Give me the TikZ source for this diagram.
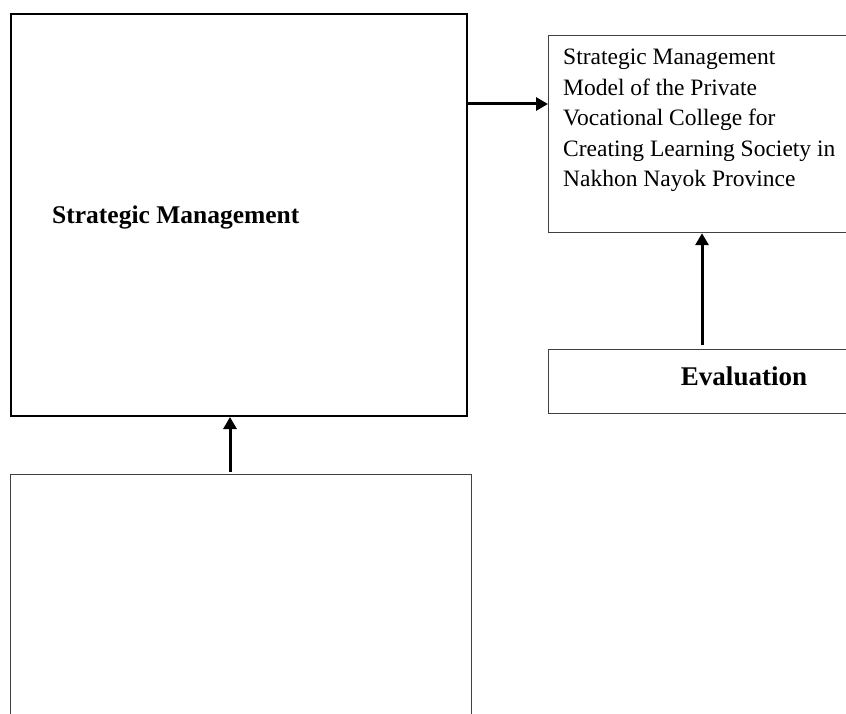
\documentclass[tikz,border=0pt]{standalone}
\usepackage{fontspec}
\setmainfont{Liberation Serif}
\usetikzlibrary{arrows.meta,positioning}

\begin{document}
\begin{tikzpicture}[x=1pt, y=-1pt,
    thickbox/.style={draw, line width=2pt, anchor=north west, inner sep=0pt},
    thinbox/.style={draw=black!75, line width=1.2pt, anchor=north west, inner sep=0pt},
    flow/.style={line width=3pt, arrows = {-Triangle[width=13pt, length=12pt]}}]
    \useasboundingbox (0,0) rectangle (846,714);

    \node[thickbox, minimum width=456, minimum height=402] (mgmt) at (10,13) {};
    \node[anchor=west, inner sep=0pt, font=\bfseries\fontsize{25.5}{30}\selectfont] (mgmtlbl) at (52,217) {Strategic Management};

    \node[thinbox, minimum width=320, minimum height=197] (model) at (548,35) {};
    \node[anchor=north west, align=left, inner sep=0pt, font=\fontsize{23.5}{30.5}\selectfont] (modellbl)
        at ([shift={(15,14)}]model.north west)
        {Strategic Management\\Model of the Private\\Vocational College for\\Creating Learning Society in\\Nakhon Nayok Province};

    \node[thinbox, minimum width=320, minimum height=64] (eval) at (548,349) {};
    \node[inner sep=0pt, font=\bfseries\fontsize{27}{32}\selectfont] (evallbl) at (744,376) {Evaluation};

    \node[thinbox, minimum width=461, minimum height=300] (input) at (10,474) {};

    % connectors
    \coordinate (mgmtout) at (mgmt.east |- 0,104);
    \draw[flow] (mgmtout) -- (mgmtout -| model.west);
    \coordinate (evalout) at ([yshift=4]eval.north -| 702,0);
    \draw[flow] (evalout) -- (evalout |- model.south);
    \coordinate (inputout) at ([yshift=2]input.north -| 230,0);
    \draw[flow] (inputout) -- (inputout |- mgmt.south);
\end{tikzpicture}
\end{document}
